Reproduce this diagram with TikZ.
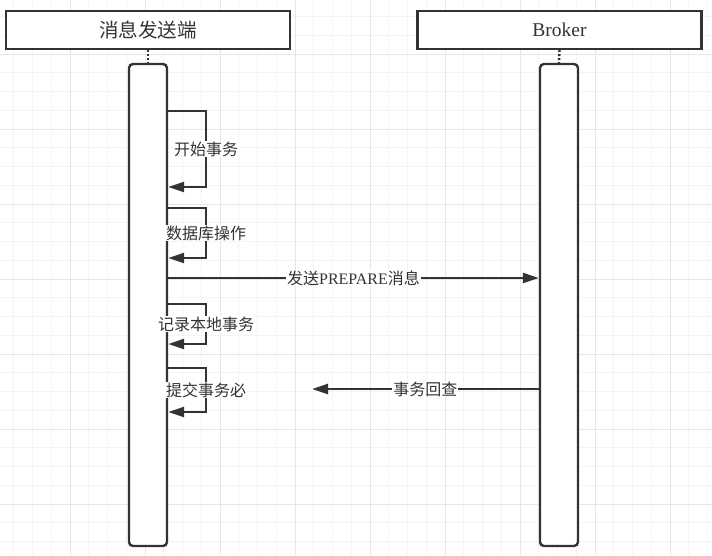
\documentclass[tikz,border=0pt]{standalone}
\usepackage{fontspec}
\setmainfont{Liberation Serif}
\newfontfamily\cjk{Noto Sans CJK SC}
\usetikzlibrary{arrows.meta}
\definecolor{cLine}{HTML}{333333}
\definecolor{cGridMinor}{HTML}{F4F4F4}
\definecolor{cGridMajor}{HTML}{E6E6E6}
\tikzset{
  headbox/.style={
    draw=cLine, line width=2.4pt,
    fill=white,
    text=cLine,
    inner sep=0pt,
    minimum width=284pt,
    minimum height=38pt,
    font=\fontsize{19.5}{22}\selectfont
  },
  lifebar/.style={
    draw=cLine, line width=2.4pt,
    rounded corners=4pt,
    fill=white,
    inner sep=0pt,
    minimum width=38pt,
    minimum height=482pt
  },
  lifeline/.style={
    draw=cLine, line width=2.4pt,
    dash pattern=on 2pt off 2pt
  },
  msg/.style={
    -{Triangle[length=16pt,width=10pt]},
    line width=2.4pt,
    draw=cLine
  },
  msglabel/.style={
    fill=white,
    text=cLine,
    inner sep=1pt,
    font=\fontsize{16}{19}\selectfont
  }
}

\begin{document}
\begin{tikzpicture}[x=1pt, y=-1pt]
  \useasboundingbox (0,0) rectangle (712,555);

  % background grid
  \foreach \k in {0,...,37}
    \draw[cGridMinor, line width=0.8pt] (13.75+18.75*\k,0) -- (13.75+18.75*\k,555);
  \foreach \k in {0,...,28}
    \draw[cGridMinor, line width=0.8pt] (0,16.5+18.75*\k) -- (712,16.5+18.75*\k);
  \foreach \k in {0,...,8}
    \draw[cGridMajor, line width=0.8pt] (70+75*\k,0) -- (70+75*\k,555);
  \foreach \k in {0,...,6}
    \draw[cGridMajor, line width=0.8pt] (0,54+75*\k) -- (712,54+75*\k);

  % participants
  \node[headbox] (sender) at (148,30) {\cjk 消息发送端};
  \node[headbox] (broker) at (559.5,30) {Broker};

  \node[lifebar] (sendbar) at (148,305) {};
  \node[lifebar] (brokbar) at (559,305) {};

  \draw[lifeline] (sender.south) -- (sendbar.north);
  \draw[lifeline] (broker.south) -- (brokbar.north);

  % self calls on the sender
  \draw[msg] (sendbar.east |- 0,111) -- ++(38,0)
    -- ++(0,76) node[midway, msglabel] {\cjk 开始事务}
    -- (sendbar.east |- 0,187);
  \draw[msg] (sendbar.east |- 0,208) -- ++(38,0)
    -- ++(0,50) node[midway, msglabel] {\cjk 数据库操作}
    -- (sendbar.east |- 0,258);
  \draw[msg] (sendbar.east |- 0,304) -- ++(38,0)
    -- ++(0,40) node[midway, msglabel] {\cjk 记录本地事务}
    -- (sendbar.east |- 0,344);
  \draw[msg] (sendbar.east |- 0,368) -- ++(38,0)
    -- ++(0,44) node[midway, msglabel] {\cjk 提交事务必}
    -- (sendbar.east |- 0,412);

  % messages between the two
  \draw[msg] (sendbar.east |- 0,278) -- node[msglabel] {{\cjk 发送}PREPARE{\cjk 消息}} (brokbar.west |- 0,278);
  \coordinate (checkend) at (312,389);
  \draw[msg] (brokbar.west |- checkend) -- node[msglabel] {\cjk 事务回查} (checkend);
\end{tikzpicture}
\end{document}
